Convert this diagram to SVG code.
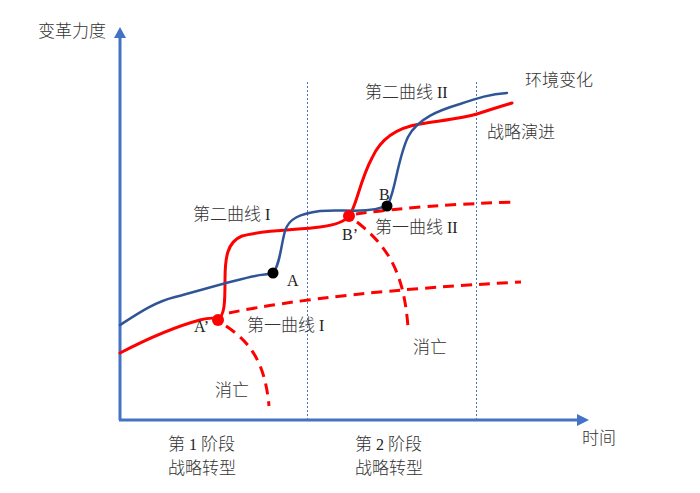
<svg xmlns="http://www.w3.org/2000/svg" width="700" height="493" viewBox="0 0 700 493">
<defs>
<style>
.axis{stroke:#4472C4;stroke-width:3;fill:none}
.arrow{fill:#4472C4}
.vdot{stroke:#4472C4;stroke-width:1;stroke-dasharray:2 2;fill:none}
.env{stroke:#2F5597;stroke-width:2.5;fill:none;stroke-linecap:round}
.strat{stroke:#FF0000;stroke-width:3;fill:none;stroke-linecap:round}
.dash{stroke:#FF0000;stroke-width:3;fill:none;stroke-dasharray:11 7}
.cjk{font-family:"Noto Sans CJK SC","Noto Sans",sans-serif;font-size:17px;fill:#333;font-weight:300}
.ser{font-family:"Liberation Serif",serif;font-size:16px;fill:#222}
</style>
</defs>
<rect width="700" height="493" fill="#fff"/>
<g id="axes">
<line class="axis" x1="120" y1="420" x2="120" y2="37"/>
<polygon class="arrow" points="120,27 126,38 114,38"/>
<line class="axis" x1="119" y1="420" x2="578" y2="420"/>
<polygon class="arrow" points="589,420 577,414 577,426"/>
<line class="vdot" x1="307.5" y1="82" x2="307.5" y2="420"/>
<line class="vdot" x1="476.5" y1="82" x2="476.5" y2="420"/>
<text class="cjk" x="38" y="37" font-size="18">变革力度</text>
<text class="cjk" x="582" y="444">时间</text>
</g>
<g id="connectors">
<path class="dash" d="M229,313 Q330,292 521,282"/>
<path class="dash" d="M356,214 Q420,205 515,202"/>
<path class="dash" d="M226,326 C250,342 265,362 269,406"/>
<path class="dash" d="M357,222 C390,248 404,275 408,327"/>
<path class="strat" d="M120,353 C145,340 170,328 200,320 C208,318 213,317 217,319 C225,318 225,300 225,280 C225,258 227,242 242,236 C262,230 300,230 320,227 C335,225 345,222 349,216 C356,208 360,180 372,158 C380,140 395,128 420,124 C445,120 465,118 480,113 C495,108 505,105 512,103"/>
<path class="env" d="M120,325 C140,312 155,302 175,297 C205,289 235,280 255,276 C263,274 268,275 273,273 C280,265 281,245 285,231 C289,218 300,214 320,211 C345,209 365,214 387,206 C395,195 397,160 408,137 C418,118 440,110 460,104 C478,98 490,94 507,93"/>
</g>
<g id="labels">
<text class="cjk" x="525" y="86" font-size="18">环境变化</text>
<text class="cjk" x="487" y="138" font-size="18">战略演进</text>
<text x="365" y="98"><tspan class="cjk">第二曲线</tspan><tspan class="ser"> II</tspan></text>
<text x="193" y="220"><tspan class="cjk">第二曲线</tspan><tspan class="ser"> I</tspan></text>
<text x="375" y="233"><tspan class="cjk">第一曲线</tspan><tspan class="ser"> II</tspan></text>
<text x="247" y="331"><tspan class="cjk">第一曲线</tspan><tspan class="ser"> I</tspan></text>
<text class="cjk" x="215" y="396">消亡</text>
<text class="cjk" x="413" y="353">消亡</text>
<text x="168" y="450"><tspan class="cjk">第</tspan><tspan class="ser"> 1 </tspan><tspan class="cjk">阶段</tspan></text>
<text class="cjk" x="168" y="474">战略转型</text>
<text x="355" y="450"><tspan class="cjk">第</tspan><tspan class="ser"> 2 </tspan><tspan class="cjk">阶段</tspan></text>
<text class="cjk" x="355" y="474">战略转型</text>
</g>
<g id="node-A">
<text class="ser" x="287" y="286">A</text>
<circle cx="273" cy="273" r="5.5" fill="#000"/>
</g>
<g id="node-B">
<text class="ser" x="379" y="200">B</text>
<circle cx="387" cy="206" r="5.5" fill="#000"/>
</g>
<g id="node-A-prime">
<text class="ser" x="194" y="332">A’</text>
<circle cx="218" cy="320" r="6" fill="#FF0000"/>
</g>
<g id="node-B-prime">
<text class="ser" x="342" y="240">B’</text>
<circle cx="349" cy="216" r="6" fill="#FF0000"/>
</g>
</svg>
